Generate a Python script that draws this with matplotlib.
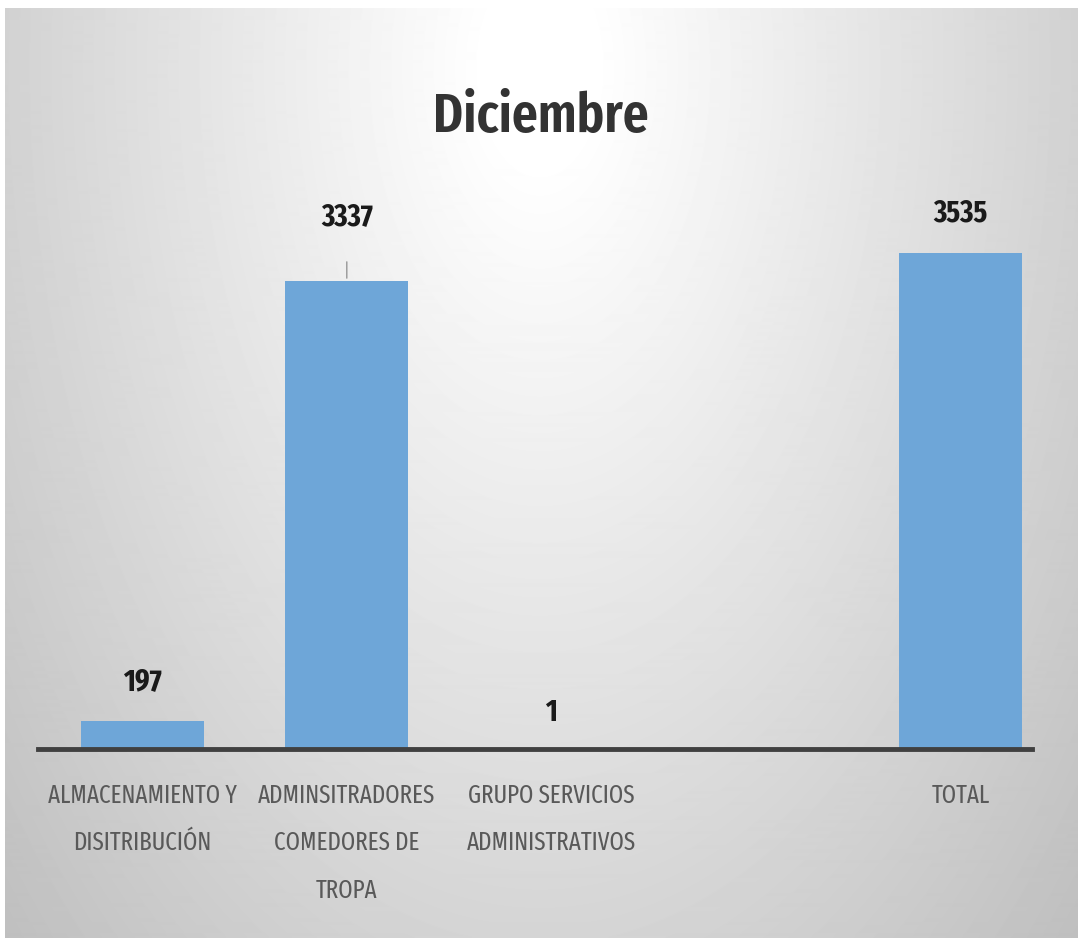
import numpy as np
import matplotlib.pyplot as plt

categories = ['ALMACENAMIENTO Y\nDISITRIBUCIÓN', 'ADMINSITRADORES\nCOMEDORES DE\nTROPA',
              'GRUPO SERVICIOS\nADMINISTRATIVOS', '', 'TOTAL']
values = [197, 3337, 1, np.nan, 3535]
title = 'Diciembre'

plt.rcParams['font.family'] = ['Fira Sans Extra Condensed', 'DejaVu Sans']

W, H = 1078, 938
fig = plt.figure(figsize=(W / 100, H / 100), dpi=100)

# gradient background (light centre, grey edges)
bg = fig.add_axes([5 / W, 0, 1 - 5 / W, 1 - 8 / H], zorder=-10)
yy, xx = np.mgrid[0:930, 0:1073]
d = np.sqrt(((xx - 535) / 640.0) ** 2 + ((yy - 60) / 1100.0) ** 2)
shade = np.clip(260 - 60 * d, 0, 255) / 255.0
bg.imshow(shade, cmap='gray', vmin=0, vmax=1, aspect='auto', interpolation='bilinear')
bg.axis('off')

ax = fig.add_axes([38 / W, 1 - 749 / H, (1032 - 38) / W, (749 - 188) / H])
ax.patch.set_alpha(0)
x = np.arange(len(categories))
ax.bar(x, values, width=0.6, color='#6ea6d8', zorder=2)
ax.set_xlim(-0.51, 4.35)
ax.set_ylim(0, 4000)

for s in ['top', 'right', 'left']:
    ax.spines[s].set_visible(False)
ax.spines['bottom'].set_linewidth(3.5)
ax.spines['bottom'].set_color('#404040')
ax.spines['bottom'].set_zorder(3)
ax.set_yticks([])
ax.set_xticks(x, categories)
ax.tick_params(axis='x', length=0, pad=25, labelsize=18, labelcolor='#595959')
for t in ax.get_xticklabels():
    t.set_linespacing(2.12)

offsets = [40, 64, 36, None, 40]
for xi, v, off in zip(x, values, offsets):
    if np.isnan(v):
        continue
    ax.annotate(f'{v:g}', (xi, v), xytext=(0, off * 0.72), textcoords='offset points',
                ha='center', va='center', fontsize=22, fontweight='bold', color='#1a1a1a')
# leader line for the 3337 label
ax.annotate('', (1, values[1]), xytext=(0, 22 * 0.72), textcoords='offset points',
            arrowprops=dict(arrowstyle='-', color='#808080', lw=0.8))

fig.text(541 / W, 1 - 118 / H, title, ha='center', va='center', fontsize=40,
         fontweight='semibold', color='#333333')

fig.savefig('out.png', dpi=100)
